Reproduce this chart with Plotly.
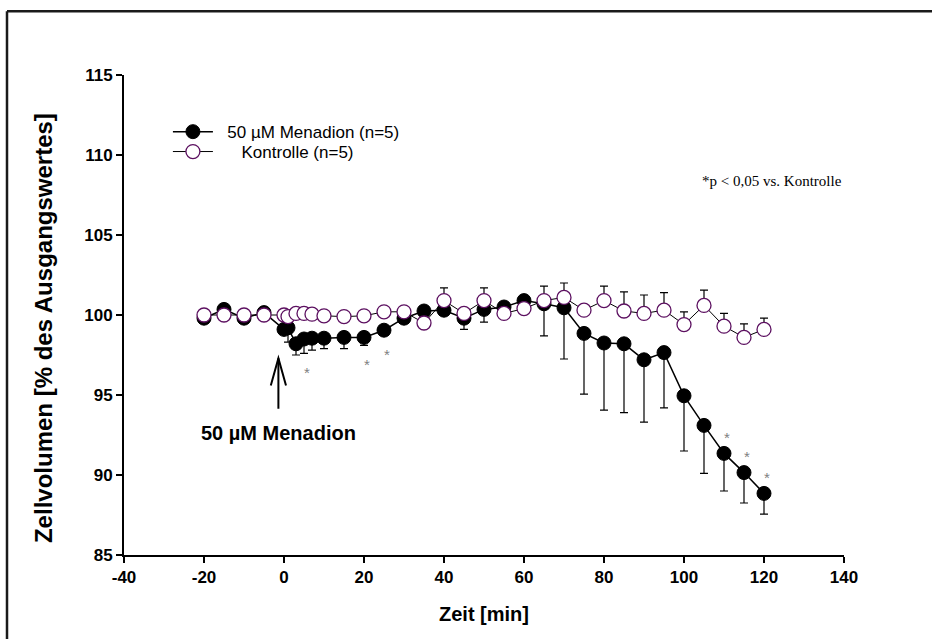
import plotly.graph_objects as go

# Zeitpunkte [min]
zeit = [-20, -15, -10, -5, 0, 1, 3, 5, 7, 10, 15, 20, 25, 30, 35, 40, 45, 50,
        55, 60, 65, 70, 75, 80, 85, 90, 95, 100, 105, 110, 115, 120]

# 50 µM Menadion (n=5): Mittelwert und SEM (nach unten)
menadion = [99.8, 100.35, 99.8, 100.15, 99.1, 99.2, 98.2, 98.5, 98.55, 98.55,
            98.6, 98.6, 99.05, 99.8, 100.25, 100.3, 99.8, 100.35, 100.5, 100.9,
            100.7, 100.45, 98.85, 98.25, 98.2, 97.2, 97.65, 94.95, 93.1, 91.35,
            90.15, 88.85]
menadion_sem = [0.2, 0.2, 0.2, 0.2, 0.3, 0.9, 0.7, 0.9, 0.75, 0.65,
                0.7, 0.5, 0.3, 0.3, 0.3, 0.3, 0.7, 0.8, 0.3, 0.3,
                2.0, 3.2, 3.8, 4.2, 4.3, 3.9, 3.45, 3.45, 3.0, 2.35,
                1.9, 1.3]

# Kontrolle (n=5): Mittelwert und SEM (nach oben)
kontrolle = [100.0, 100.0, 100.0, 100.0, 100.0, 99.9, 100.1, 100.1, 100.05, 99.95,
             99.9, 99.95, 100.2, 100.2, 99.5, 100.9, 100.1, 100.9, 100.1, 100.4,
             100.9, 101.1, 100.3, 100.9, 100.25, 100.1, 100.3, 99.4, 100.6, 99.3,
             98.6, 99.1]
kontrolle_sem = [0.2, 0.2, 0.2, 0.2, 0.2, 0.2, 0.2, 0.2, 0.2, 0.2,
                 0.2, 0.2, 0.2, 0.2, 0.2, 0.8, 0.2, 0.8, 0.2, 0.2,
                 0.9, 0.9, 0.2, 0.9, 1.2, 1.15, 1.1, 0.8, 0.95, 0.8,
                 0.85, 0.7]

# signifikante Zeitpunkte (*p < 0,05) und Lage des Sternchens
sig_zeit = [5, 20, 25, 110, 115, 120]
sig_oben = [False, False, False, True, True, True]

x_ticks = [-40, -20, 0, 20, 40, 60, 80, 100, 120, 140]
x_ticktext = ["-40", "-20", "0", "20", "40", "60", "80", "100", "120", "140"]
y_ticks = [85, 90, 95, 100, 105, 110, 115]

SANS = "Arial, Liberation Sans, sans-serif"
SERIF = "Times New Roman, Liberation Serif, serif"
PURPLE = "#5c1060"
NB = "\u00a0"

fig = go.Figure()

fig.add_trace(go.Scatter(
    x=zeit, y=menadion, name=NB * 2 + "50 µM Menadion (n=5)",
    legend="legend",
    mode="lines+markers",
    line=dict(color="black", width=1.5),
    marker=dict(symbol="circle", size=14, color="black",
                line=dict(color="black", width=1)),
    error_y=dict(type="data", symmetric=False,
                 array=[0] * len(zeit), arrayminus=menadion_sem,
                 color="black", thickness=1.2, width=4),
))

fig.add_trace(go.Scatter(
    x=zeit, y=kontrolle, name=NB * 5 + "Kontrolle (n=5)",
    legend="legend2",
    mode="lines+markers",
    line=dict(color="black", width=1),
    marker=dict(symbol="circle", size=14, color="white",
                line=dict(color=PURPLE, width=1.3)),
    error_y=dict(type="data", symmetric=False,
                 array=kontrolle_sem, arrayminus=[0] * len(zeit),
                 color="black", thickness=1.2, width=4),
))

# Signifikanz-Sternchen
idx = {t: i for i, t in enumerate(zeit)}
for t, oben in zip(sig_zeit, sig_oben):
    i = idx[t]
    if oben:
        ys = menadion[i] + 1.0
    else:
        ys = menadion[i] - menadion_sem[i] - 1.2
    fig.add_annotation(x=t + 0.8, y=ys, text="*", showarrow=False,
                       font=dict(family=SANS, size=15, color="#808080"))

# Pfeil: Zugabe von Menadion
arrow_t = -1.4
fig.add_annotation(x=arrow_t, y=97.3, ax=arrow_t, ay=94.05,
                   xref="x", yref="y", axref="x", ayref="y",
                   text="", showarrow=True, arrowhead=0,
                   arrowwidth=2, arrowcolor="black")
fig.add_shape(type="path", xref="x", yref="y",
              path=f"M {arrow_t - 1.9},{95.6} L {arrow_t},{97.3} L {arrow_t + 1.9},{95.6}",
              line=dict(color="black", width=2))
fig.add_annotation(x=arrow_t, y=92.6, text="<b>50 µM Menadion</b>",
                   showarrow=False,
                   font=dict(family=SANS, size=20, color="black"))

fig.add_annotation(xref="paper", yref="paper", x=0.9, y=0.779,
                   text="*p &lt; 0,05 vs. Kontrolle", showarrow=False,
                   xanchor="center", yanchor="middle",
                   font=dict(family=SERIF, size=15, color="black"))

# Achsentitel der y-Achse
fig.add_annotation(xref="paper", yref="paper", x=-0.111, y=0.473,
                   text="<b>Zellvolumen [% des Ausgangswertes]</b>",
                   textangle=-90, showarrow=False,
                   xanchor="center", yanchor="middle",
                   font=dict(family=SANS, size=24, color="black"))

# Rahmen um die Abbildung
frame = dict(color="#1a1a1a", width=2.5)
fig.add_shape(type="line", xref="paper", yref="paper",
              x0=-0.1625, x1=-0.1625, y0=1.133, y1=-0.3, line=frame)
fig.add_shape(type="line", xref="paper", yref="paper",
              x0=-0.1625, x1=1.2, y0=1.133, y1=1.133, line=frame)

legend_style = dict(xanchor="left", yanchor="middle",
                    bgcolor="rgba(0,0,0,0)", borderwidth=0,
                    font=dict(family=SANS, size=17, color="black"),
                    itemwidth=40)

fig.update_layout(
    width=932, height=639,
    margin=dict(l=124, r=88, t=75, b=84),
    paper_bgcolor="white", plot_bgcolor="white",
    font=dict(family=SANS, color="black"),
    showlegend=True,
    legend=dict(x=0.061, y=0.881, **legend_style),
    legend2=dict(x=0.061, y=0.8396, **legend_style),
    xaxis=dict(range=[-40, 140], tickvals=x_ticks, ticktext=x_ticktext,
               ticks="outside", ticklen=6, tickwidth=2, tickcolor="black",
               showline=True, linecolor="black", linewidth=2,
               showgrid=False, zeroline=False,
               tickfont=dict(family=SANS, size=17, weight="bold"),
               title=dict(text="Zeit [min]", standoff=21,
                          font=dict(family=SANS, size=20, weight="bold"))),
    yaxis=dict(range=[85, 115], tickvals=y_ticks,
               ticks="outside", ticklen=6, tickwidth=2, tickcolor="black",
               showline=True, linecolor="black", linewidth=2,
               showgrid=False, zeroline=False,
               tickfont=dict(family=SANS, size=17, weight="bold")),
)

fig.write_html("out.html")
